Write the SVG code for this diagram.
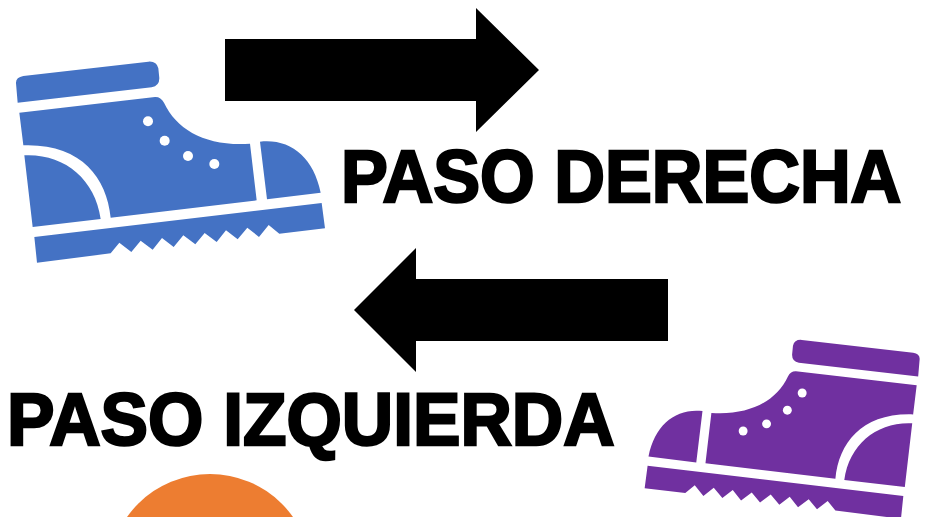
<svg xmlns="http://www.w3.org/2000/svg" width="926" height="517" viewBox="0 0 926 517">
<style>
.t{font-family:"Liberation Sans",Arial,sans-serif;font-weight:700;font-size:75px;fill:#000;stroke:#000;stroke-width:2.5px;stroke-linejoin:miter}
.d{fill:#fff}
</style>
<defs>
<g id="boot">
<path d="M48 100Q47 82 70 78L445 35Q470 33 475 55L478 85Q478 108 455 112L53 158ZM58 188L465 141Q482 140 492 158C530 240 620 290 750 281L770 451L332 503C320 380 240 280 70 286ZM73 316C190 310 285 385 302 507L98 531ZM780 275C870 265 940 320 962 428L801 448ZM103 561L965 459L975 535L838 551L806 525L777 561L742 533L713 568L678 541L650 576L614 549L586 583L550 556L521 591L486 564L458 599L422 572L394 606L358 578L332 610L111 638Z"/>
<circle class="d" cx="444" cy="214" r="15"/><circle class="d" cx="494" cy="272" r="15"/><circle class="d" cx="564" cy="318" r="15"/><circle class="d" cx="643" cy="342" r="15"/>
</g>
</defs>
<rect width="926" height="517" fill="#fff"/>
<g id="sun"><circle cx="210" cy="575.6" r="101.6" fill="#ED7D31"/></g>
<g id="boot-right"><use href="#boot" fill="#4472C4" transform="translate(0,50) scale(.33333)"/></g>
<g id="boot-left"><use href="#boot" fill="#7030A0" transform="translate(630,330) scale(.33333) translate(820,497) scale(-.89,.89) translate(-103,-560)"/></g>
<g id="connectors">
<path d="M225 39H476V8L539 70L476 132V101H225Z" fill="#000"/>
<path d="M668 279H416V248L354 310L416 372V341H668Z" fill="#000"/>
</g>
<g id="label-right"><text class="t" transform="translate(341,202) scale(.936,1)">PASO DERECHA</text></g>
<g id="label-left"><text class="t" transform="translate(7,445) scale(.949,1)">PASO IZQUIERDA</text></g>
</svg>
